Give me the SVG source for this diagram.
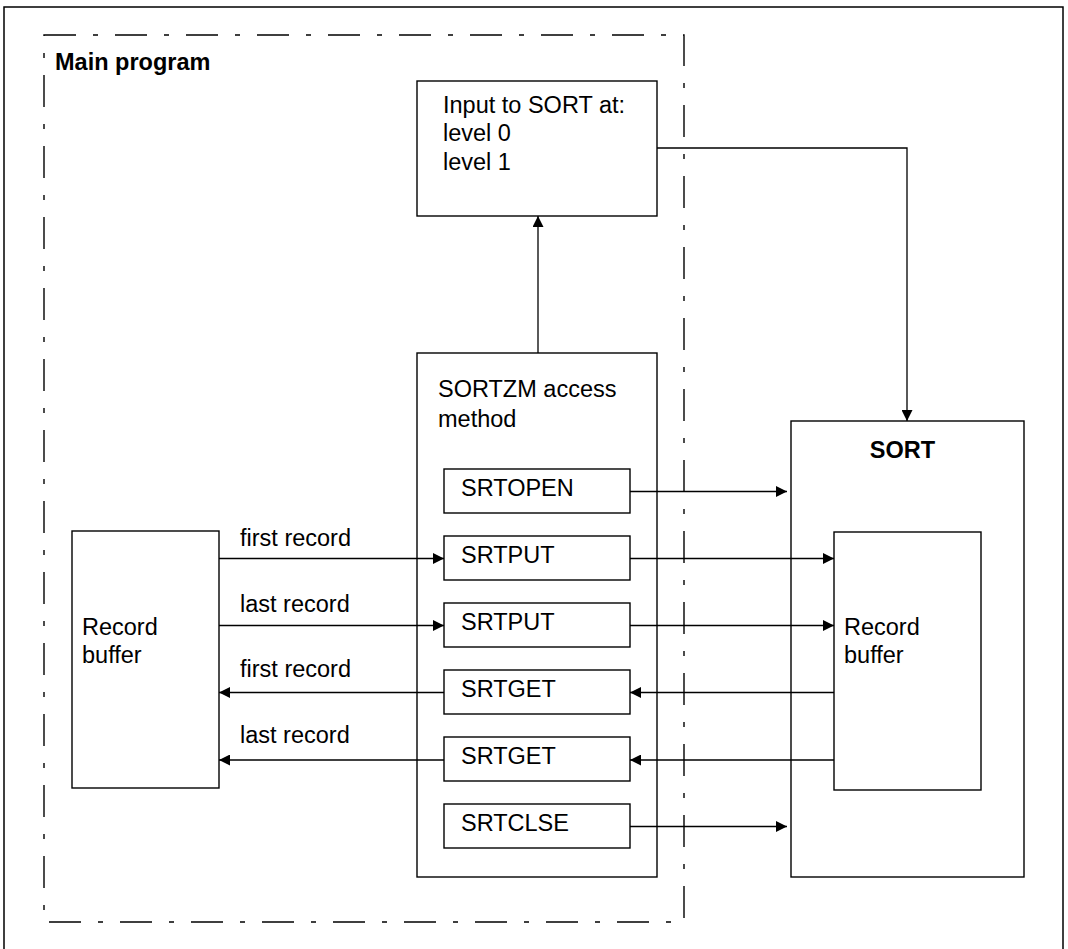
<svg xmlns="http://www.w3.org/2000/svg" width="1068" height="949" viewBox="0 0 1068 949">
<style>
.box{fill:#fff;stroke:#000;stroke-width:1.4}
.ln{fill:none;stroke:#000;stroke-width:1.3}
.t{font-family:"Liberation Sans",Arial,sans-serif;font-size:23.5px;fill:#000}
.b{font-weight:bold}
</style>
<defs>
<marker id="ah" viewBox="0 0 11 11" refX="11" refY="5.5" markerWidth="11" markerHeight="11" markerUnits="userSpaceOnUse" orient="auto">
<path d="M0,0 L11,5.5 L0,11 z" fill="#000"/>
</marker>
</defs>
<rect width="1068" height="949" fill="#fff"/>
<path d="M4,949 V7 H1063 V949" fill="none" stroke="#000" stroke-width="1.5"/>
<g id="main-program">
<rect x="44" y="35" width="640" height="887" fill="none" stroke="#000" stroke-width="1.4" stroke-dasharray="32 17 5 17"/>
<text class="t b" x="55" y="70">Main program</text>
</g>
<g id="input-box">
<rect class="box" x="417" y="81" width="240" height="135"/>
<text class="t" x="443" y="113">Input to SORT at:</text>
<text class="t" x="443" y="141">level 0</text>
<text class="t" x="443" y="170">level 1</text>
</g>
<g id="sortzm">
<rect class="box" x="417" y="353" width="240" height="524"/>
<text class="t" x="438" y="397">SORTZM access</text>
<text class="t" x="438" y="427">method</text>
</g>
<g id="srtopen"><rect class="box" x="444" y="469" width="186" height="44"/><text class="t" x="461" y="496">SRTOPEN</text></g>
<g id="srtput1"><rect class="box" x="444" y="536" width="186" height="44"/><text class="t" x="461" y="563">SRTPUT</text></g>
<g id="srtput2"><rect class="box" x="444" y="603" width="186" height="44"/><text class="t" x="461" y="630">SRTPUT</text></g>
<g id="srtget1"><rect class="box" x="444" y="670" width="186" height="44"/><text class="t" x="461" y="697">SRTGET</text></g>
<g id="srtget2"><rect class="box" x="444" y="737" width="186" height="44"/><text class="t" x="461" y="764">SRTGET</text></g>
<g id="srtclse"><rect class="box" x="444" y="804" width="186" height="44"/><text class="t" x="461" y="831">SRTCLSE</text></g>
<g id="record-buffer-left">
<rect class="box" x="72" y="531" width="147" height="257"/>
<text class="t" x="82" y="635">Record</text>
<text class="t" x="82" y="663">buffer</text>
</g>
<g id="sort">
<rect class="box" x="791" y="421" width="233" height="456"/>
<text class="t b" x="902.5" y="458" text-anchor="middle">SORT</text>
</g>
<g id="record-buffer-sort">
<rect class="box" x="834" y="532" width="147" height="258"/>
<text class="t" x="844" y="635">Record</text>
<text class="t" x="844" y="663">buffer</text>
</g>
<g id="connectors">
<path class="ln" d="M538,353 V216" marker-end="url(#ah)"/>
<path class="ln" d="M657,148 H907 V421" marker-end="url(#ah)"/>
<path class="ln" d="M630,491.5 H787" marker-end="url(#ah)"/>
<path class="ln" d="M630,558.5 H834" marker-end="url(#ah)"/>
<path class="ln" d="M630,625.5 H834" marker-end="url(#ah)"/>
<path class="ln" d="M834,692.5 H630" marker-end="url(#ah)"/>
<path class="ln" d="M834,760 H630" marker-end="url(#ah)"/>
<path class="ln" d="M630,826.5 H787" marker-end="url(#ah)"/>
<path class="ln" d="M219,558.5 H444" marker-end="url(#ah)"/>
<path class="ln" d="M219,625.5 H444" marker-end="url(#ah)"/>
<path class="ln" d="M444,692.5 H219" marker-end="url(#ah)"/>
<path class="ln" d="M444,760 H219" marker-end="url(#ah)"/>
<text class="t" x="240" y="546">first record</text>
<text class="t" x="240" y="612">last record</text>
<text class="t" x="240" y="677">first record</text>
<text class="t" x="240" y="743">last record</text>
</g>
</svg>
